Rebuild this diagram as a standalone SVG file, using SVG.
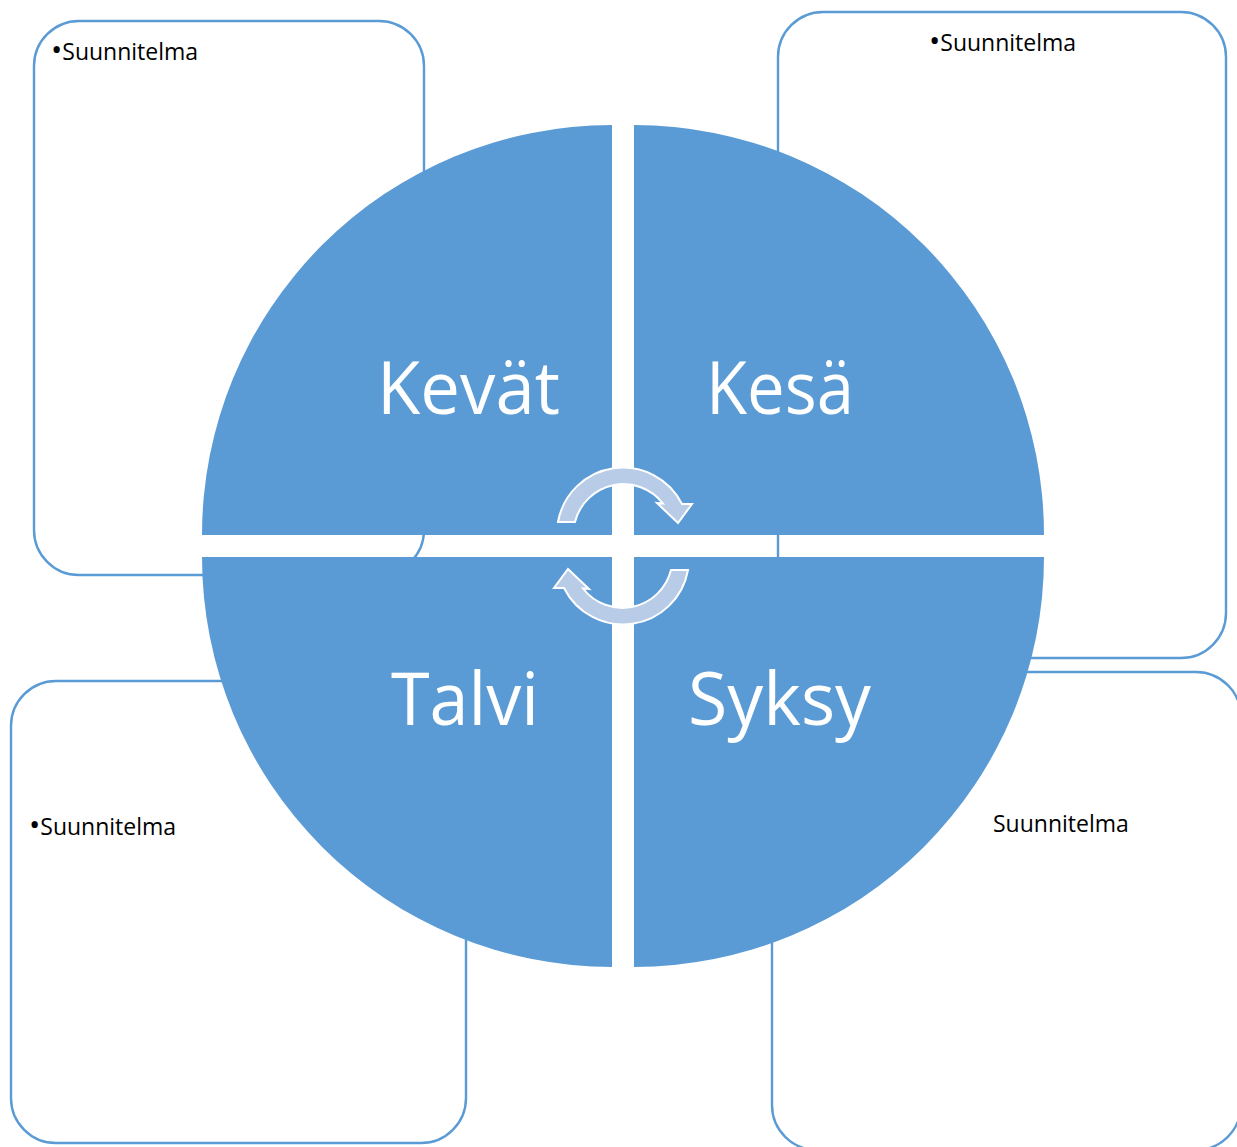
<svg xmlns="http://www.w3.org/2000/svg" width="1237" height="1147" viewBox="0 0 1237 1147">
<style>
.box{fill:#ffffff;stroke:#5b9bd5;stroke-width:2.4}
.quad{fill:#5b9bd5}
.lbl{fill:#ffffff;font-family:"Open Sans","Noto Sans",sans-serif;font-size:74px}
.note{fill:#000000;font-family:"Open Sans","Noto Sans",sans-serif;font-size:23px}
.bul{font-size:30px}
.arr{fill:#b8cce8;stroke:#ffffff;stroke-width:2}
</style>
<rect width="1237" height="1147" fill="#ffffff"/>
<g id="box-tl"><rect class="box" x="34" y="21" width="390" height="554" rx="45"/><text class="note" x="51" y="60"><tspan class="bul">•</tspan>Suunnitelma</text></g>
<g id="box-tr"><rect class="box" x="778" y="12" width="448" height="646" rx="45"/><text class="note" x="929" y="51"><tspan class="bul">•</tspan>Suunnitelma</text></g>
<g id="box-bl"><rect class="box" x="11" y="681" width="455" height="462" rx="45"/><text class="note" x="29" y="835"><tspan class="bul">•</tspan>Suunnitelma</text></g>
<g id="box-br"><rect class="box" x="772" y="672" width="469" height="478" rx="45"/><text class="note" x="993" y="832">Suunnitelma</text></g>
<g id="kevat"><path class="quad" d="M612,535 L202,535 A410,410 0 0 1 612,125 Z"/><text class="lbl" x="377" y="414" textLength="183" lengthAdjust="spacingAndGlyphs">Kevät</text></g>
<g id="kesa"><path class="quad" d="M634,535 L634,125 A410,410 0 0 1 1044,535 Z"/><text class="lbl" x="706" y="414" textLength="148" lengthAdjust="spacingAndGlyphs">Kesä</text></g>
<g id="talvi"><path class="quad" d="M612,557 L612,967 A410,410 0 0 1 202,557 Z"/><text class="lbl" x="391" y="725" textLength="148" lengthAdjust="spacingAndGlyphs">Talvi</text></g>
<g id="syksy"><path class="quad" d="M634,557 L1044,557 A410,410 0 0 1 634,967 Z"/><text class="lbl" x="688" y="725" textLength="183" lengthAdjust="spacingAndGlyphs">Syksy</text></g>
<g id="connectors">
<path id="arrow-top" class="arr" d="M558,522 A66,66 0 0 1 682,504 L692,504 L678,523 L657,503 L663,503.5 A50,50 0 0 0 575,522 Z"/>
<path id="arrow-bottom" class="arr" transform="rotate(180 623 546)" d="M558,522 A66,66 0 0 1 682,504 L692,504 L678,523 L657,503 L663,503.5 A50,50 0 0 0 575,522 Z"/>
</g>
</svg>
